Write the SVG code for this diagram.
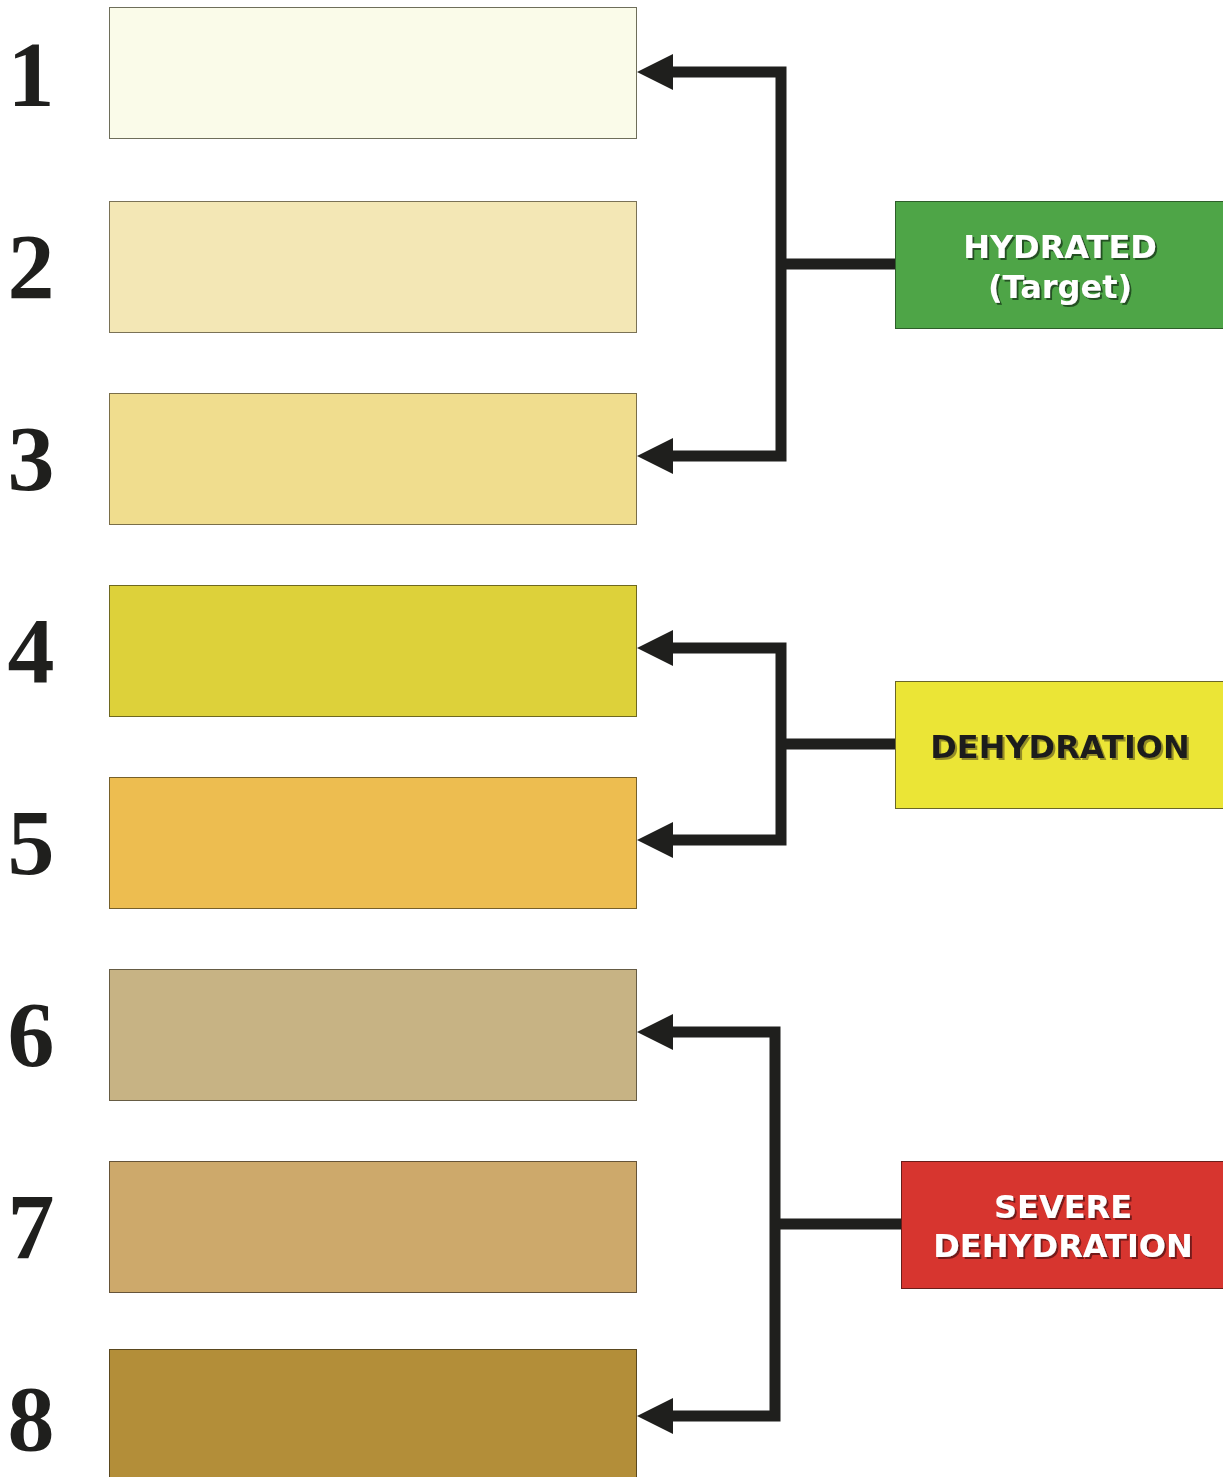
<svg xmlns="http://www.w3.org/2000/svg" width="1223" height="1477" viewBox="0 0 1223 1477">
<defs>
<style>
.sw{stroke-width:1}
.num{font-family:"Liberation Serif","Times New Roman",serif;font-weight:bold;font-size:94px;fill:#1f1f1d;text-anchor:middle}
.lbl{font-family:"DejaVu Sans",Verdana,sans-serif;font-weight:bold;font-size:32px;text-anchor:middle}
.conn{fill:none;stroke:#1f1f1d;stroke-width:11;stroke-linejoin:miter}
.head{fill:#1f1f1d}
</style>
<filter id="shG" x="-10%" y="-30%" width="120%" height="160%"><feDropShadow dx="2" dy="2" stdDeviation="0.4" flood-color="#1e4a1a" flood-opacity="0.9"/></filter>
<filter id="shY" x="-10%" y="-30%" width="120%" height="160%"><feDropShadow dx="2" dy="2" stdDeviation="0.4" flood-color="#8a8420" flood-opacity="0.9"/></filter>
<filter id="shR" x="-10%" y="-30%" width="120%" height="160%"><feDropShadow dx="2" dy="2" stdDeviation="0.4" flood-color="#6a1512" flood-opacity="0.9"/></filter>
</defs>
<rect width="1223" height="1477" fill="#ffffff"/>
<g id="swatch1"><rect x="109.5" y="7.5" width="527" height="131" fill="#fafbe9" stroke="#6e6e5a"/><text class="num" x="31" y="106">1</text></g>
<g id="swatch2"><rect x="109.5" y="201.5" width="527" height="131" fill="#f3e7b5" stroke="#7a7256"/><text class="num" x="31" y="298">2</text></g>
<g id="swatch3"><rect x="109.5" y="393.5" width="527" height="131" fill="#f0dd8e" stroke="#7a6e48"/><text class="num" x="31" y="490">3</text></g>
<g id="swatch4"><rect x="109.5" y="585.5" width="527" height="131" fill="#ddd13a" stroke="#6e6820"/><text class="num" x="31" y="682">4</text></g>
<g id="swatch5"><rect x="109.5" y="777.5" width="527" height="131" fill="#edbd50" stroke="#76602a"/><text class="num" x="31" y="874">5</text></g>
<g id="swatch6"><rect x="109.5" y="969.5" width="527" height="131" fill="#c7b384" stroke="#665c44"/><text class="num" x="31" y="1066">6</text></g>
<g id="swatch7"><rect x="109.5" y="1161.5" width="527" height="131" fill="#cda96b" stroke="#665438"/><text class="num" x="31" y="1258">7</text></g>
<g id="swatch8"><rect x="109.5" y="1349.5" width="527" height="140" fill="#b38e39" stroke="#5a481e"/><text class="num" x="31" y="1450">8</text></g>
<g id="hydrated"><rect x="895.5" y="201.5" width="340" height="127" fill="#4ea547" stroke="#2e5e2a"/><text class="lbl" x="1060" y="258" fill="#ffffff" filter="url(#shG)">HYDRATED</text><text class="lbl" x="1060" y="298" fill="#ffffff" filter="url(#shG)">(Target)</text></g>
<g id="dehydration"><rect x="895.5" y="681.5" width="340" height="127" fill="#ebe536" stroke="#6a6628"/><text class="lbl" x="1060" y="758" fill="#1f1f1d" filter="url(#shY)">DEHYDRATION</text></g>
<g id="severe"><rect x="901.5" y="1161.5" width="340" height="127" fill="#d7352f" stroke="#6a1e1a"/><text class="lbl" x="1063" y="1218" fill="#ffffff" filter="url(#shR)">SEVERE</text><text class="lbl" x="1063" y="1257" fill="#ffffff" filter="url(#shR)">DEHYDRATION</text></g>
<g id="connectors">
<path class="conn" d="M670 72 H781 V456 H670 M781 264 H895"/>
<polygon class="head" points="637,72 673,54 673,90"/>
<polygon class="head" points="637,456 673,438 673,474"/>
<path class="conn" d="M670 648 H781 V840 H670 M781 744 H895"/>
<polygon class="head" points="637,648 673,630 673,666"/>
<polygon class="head" points="637,840 673,822 673,858"/>
<path class="conn" d="M670 1032 H775 V1416 H670 M775 1224 H901"/>
<polygon class="head" points="637,1032 673,1014 673,1050"/>
<polygon class="head" points="637,1416 673,1398 673,1434"/>
</g>
</svg>
